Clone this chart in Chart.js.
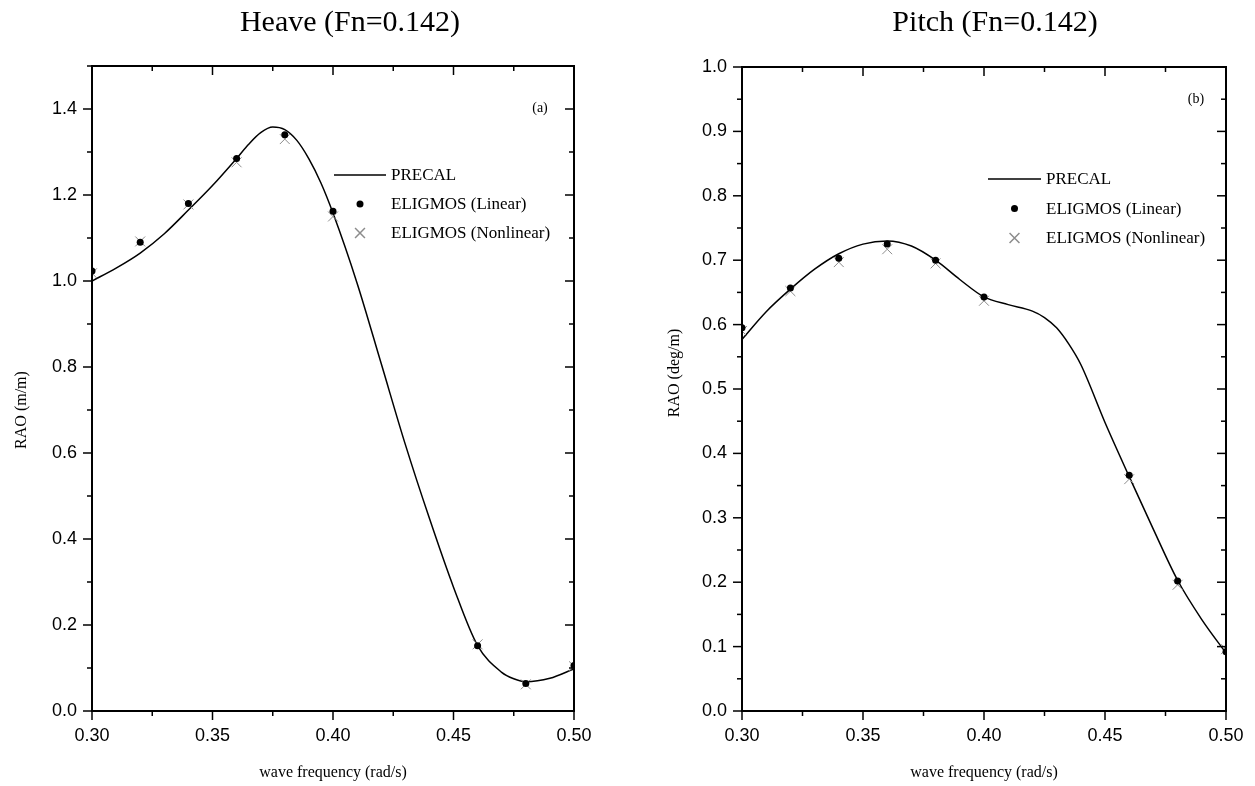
<!DOCTYPE html>
<html>
<head>
<meta charset="utf-8">
<script src="https://cdn.jsdelivr.net/npm/chart.js@4.4.1/dist/chart.umd.min.js"></script>
<style>
  html, body { margin: 0; padding: 0; background: #fff; }
  body { width: 1255px; height: 786px; position: relative; overflow: hidden; }
  canvas { position: absolute; top: 0; }
</style>
</head>
<body>
<canvas id="heave" width="640" height="786" style="left:0px"></canvas>
<canvas id="pitch" width="615" height="786" style="left:640px"></canvas>
<script>
// ELIGMOS sample frequencies (rad/s)
const freqPoints = [0.30, 0.32, 0.34, 0.36, 0.38, 0.40, 0.46, 0.48, 0.50];

// Heave RAO (m/m)
const heaveLinear    = [1.023, 1.090, 1.180, 1.285, 1.340, 1.162, 0.152, 0.064, 0.106];
const heaveNonlinear = [1.018, 1.092, 1.178, 1.276, 1.330, 1.150, 0.155, 0.062, 0.104];
const heaveCurveX = [0.30, 0.31, 0.32, 0.33, 0.34, 0.35, 0.36, 0.365, 0.37, 0.375, 0.38, 0.385,
                     0.39, 0.395, 0.40, 0.41, 0.42, 0.43, 0.44, 0.45, 0.46, 0.47, 0.475, 0.48, 0.49, 0.50];
const heaveCurve  = [1.000, 1.030, 1.065, 1.110, 1.165, 1.222, 1.285, 1.318, 1.345, 1.358, 1.352, 1.327,
                     1.284, 1.228, 1.158, 0.995, 0.808, 0.620, 0.448, 0.288, 0.152, 0.090, 0.075, 0.068, 0.076, 0.098];

// Pitch RAO (deg/m)
const pitchLinear    = [0.595, 0.657, 0.703, 0.725, 0.700, 0.643, 0.366, 0.202, 0.092];
const pitchNonlinear = [0.590, 0.652, 0.697, 0.717, 0.695, 0.637, 0.360, 0.196, 0.096];
const pitchCurveX = [0.30, 0.31, 0.32, 0.33, 0.34, 0.35, 0.36, 0.37, 0.38, 0.39, 0.40,
                     0.41, 0.42, 0.425, 0.43, 0.435, 0.44, 0.45, 0.46, 0.47, 0.48, 0.49, 0.50];
const pitchCurve  = [0.577, 0.620, 0.655, 0.686, 0.710, 0.725, 0.730, 0.722, 0.700, 0.670, 0.643,
                     0.631, 0.621, 0.611, 0.595, 0.570, 0.538, 0.448, 0.364, 0.282, 0.203, 0.142, 0.090];

const SERIF = '"Liberation Serif", "Times New Roman", serif';
const SANS = '"Liberation Sans", Arial, sans-serif';

const toPoints = (xs, ys) => xs.map((x, i) => ({ x: x, y: ys[i] }));

// frame, mirrored ticks, titles, legend and panel letter
const panelDecor = {
  id: 'panelDecor',
  afterDraw(chart, args, opts) {
    const { ctx, chartArea: a, scales } = chart;
    const line = (x1, y1, x2, y2) => { ctx.beginPath(); ctx.moveTo(x1, y1); ctx.lineTo(x2, y2); ctx.stroke(); };
    ctx.save();
    ctx.strokeStyle = '#000';

    ctx.lineWidth = 1.5;
    scales.x.ticks.forEach((t, i) => {
      const px = scales.x.getPixelForValue(t.value);
      const len = i % 2 ? 5 : 9;
      line(px, a.bottom, px, a.bottom + len);
      line(px, a.top, px, a.top + len);
    });
    scales.y.ticks.forEach((t, i) => {
      const py = scales.y.getPixelForValue(t.value);
      const len = i % 2 ? 5 : 9;
      line(a.left - len, py, a.left, py);
      line(a.right - len, py, a.right, py);
    });

    ctx.lineWidth = 2;
    ctx.strokeRect(a.left, a.top, a.right - a.left, a.bottom - a.top);

    ctx.fillStyle = '#000';
    ctx.textAlign = 'center';
    ctx.textBaseline = 'middle';
    ctx.font = '30px ' + SERIF;
    ctx.fillText(opts.title, opts.titleX, 23);

    ctx.font = '16px ' + SERIF;
    ctx.fillText(opts.xTitle, (a.left + a.right) / 2, 773);
    ctx.save();
    ctx.translate(opts.yTitleX, opts.yTitleY);
    ctx.rotate(-Math.PI / 2);
    ctx.fillText(opts.yTitle, 0, 0);
    ctx.restore();

    ctx.font = '14px ' + SERIF;
    ctx.fillText(opts.panel, opts.panelX, opts.panelY);

    // legend
    const lg = opts.legend;
    ctx.font = '17px ' + SERIF;
    ctx.textAlign = 'left';
    lg.rows.forEach((row, k) => {
      const y = lg.y + k * lg.gap;
      const d = chart.data.datasets[row];
      if (d.showLine) {
        ctx.strokeStyle = d.borderColor;
        ctx.lineWidth = d.borderWidth;
        line(lg.lineX1, y, lg.lineX2, y);
      } else {
        ctx.fillStyle = d.backgroundColor;
        ctx.strokeStyle = d.borderColor;
        Chart.helpers.drawPoint(ctx, {
          pointStyle: d.pointStyle, radius: d.pointRadius, rotation: 0, borderWidth: d.borderWidth
        }, (lg.lineX1 + lg.lineX2) / 2, y);
      }
      ctx.fillStyle = '#000';
      ctx.fillText(d.label, lg.textX, y + 1);
    });
    ctx.restore();
  }
};

function buildChart(id, cfg) {
  return new Chart(document.getElementById(id), {
    type: 'scatter',
    data: {
      datasets: [
        {
          label: 'ELIGMOS (Linear)',
          data: toPoints(freqPoints, cfg.linear),
          showLine: false,
          pointStyle: 'circle',
          pointRadius: 3.5,
          backgroundColor: '#000',
          borderColor: '#000',
          borderWidth: 0,
          clip: 0,
          order: 0
        },
        {
          label: 'ELIGMOS (Nonlinear)',
          data: toPoints(freqPoints, cfg.nonlinear),
          showLine: false,
          pointStyle: 'crossRot',
          pointRadius: 7,
          backgroundColor: 'rgba(0,0,0,0)',
          borderColor: '#8c8c8c',
          borderWidth: 1,
          clip: 0,
          order: 1
        },
        {
          label: 'PRECAL',
          data: toPoints(cfg.curveX, cfg.curve),
          showLine: true,
          pointRadius: 0,
          borderColor: '#000',
          borderWidth: 1.5,
          cubicInterpolationMode: 'monotone',
          order: 2
        }
      ]
    },
    options: {
      responsive: false,
      animation: false,
      devicePixelRatio: 1,
      layout: { padding: cfg.padding },
      plugins: {
        legend: { display: false },
        tooltip: { enabled: false },
        panelDecor: cfg.decor
      },
      scales: {
        x: {
          type: 'linear',
          min: 0.30,
          max: 0.50,
          border: { display: false },
          grid: { display: true, drawOnChartArea: false, drawTicks: true, tickLength: 9, tickColor: 'rgba(0,0,0,0)' },
          ticks: {
            stepSize: 0.025,
            autoSkip: false,
            maxRotation: 0,
            padding: 5,
            color: '#000',
            font: { family: SANS, size: 18 },
            callback: (v, i) => (i % 2 ? '' : v.toFixed(2))
          },
          afterFit: s => { s.height = 75; }
        },
        y: {
          type: 'linear',
          min: 0,
          max: cfg.yMax,
          border: { display: false },
          grid: { display: true, drawOnChartArea: false, drawTicks: true, tickLength: 9, tickColor: 'rgba(0,0,0,0)' },
          ticks: {
            stepSize: cfg.yStep,
            autoSkip: false,
            padding: 6,
            color: '#000',
            font: { family: SANS, size: 18 },
            callback: (v, i) => (i % 2 ? '' : v.toFixed(1))
          },
          afterFit: s => { s.width = cfg.yWidth; }
        }
      }
    },
    plugins: [panelDecor]
  });
}

buildChart('heave', {
  linear: heaveLinear,
  nonlinear: heaveNonlinear,
  curveX: heaveCurveX,
  curve: heaveCurve,
  yMax: 1.5,
  yStep: 0.1,
  yWidth: 92,
  padding: { top: 66, right: 66, left: 0, bottom: 0 },
  decor: {
    title: 'Heave (Fn=0.142)', titleX: 350,
    xTitle: 'wave frequency (rad/s)',
    yTitle: 'RAO (m/m)', yTitleX: 22, yTitleY: 410,
    panel: '(a)', panelX: 540, panelY: 108,
    legend: { y: 175, gap: 29, lineX1: 334, lineX2: 386, textX: 391, rows: [2, 0, 1] }
  }
});

buildChart('pitch', {
  linear: pitchLinear,
  nonlinear: pitchNonlinear,
  curveX: pitchCurveX,
  curve: pitchCurve,
  yMax: 1.0,
  yStep: 0.05,
  yWidth: 102,
  padding: { top: 67, right: 29, left: 0, bottom: 0 },
  decor: {
    title: 'Pitch (Fn=0.142)', titleX: 355,
    xTitle: 'wave frequency (rad/s)',
    yTitle: 'RAO (deg/m)', yTitleX: 35, yTitleY: 373,
    panel: '(b)', panelX: 556, panelY: 99,
    legend: { y: 179, gap: 29.5, lineX1: 348, lineX2: 401, textX: 406, rows: [2, 0, 1] }
  }
});
</script>
</body>
</html>
